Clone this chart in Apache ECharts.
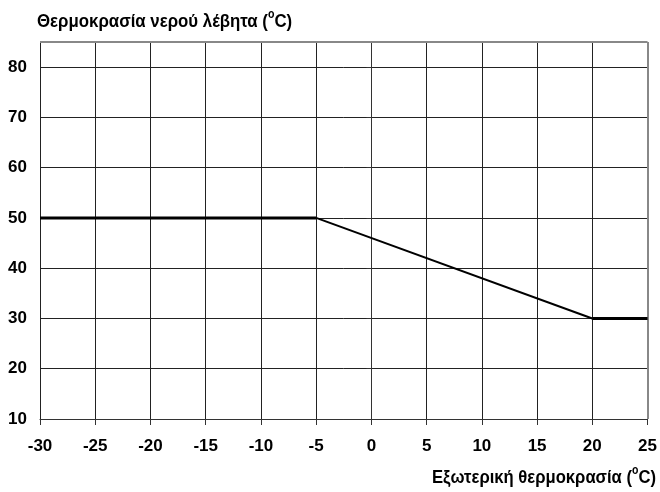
<!DOCTYPE html>
<html><head><meta charset="utf-8">
<script src="https://cdn.jsdelivr.net/npm/echarts@6/dist/echarts.min.js"></script>
<style>html,body{margin:0;padding:0;background:#fff}#c{width:660px;height:492px}</style>
</head><body><div id="c"></div>
<script>
const xTicks = [-30,-25,-20,-15,-10,-5,0,5,10,15,20,25];
const yTicks = [10,20,30,40,50,60,70,80];
const flatLow = [[-30,50],[-5,50]];
const slope = [[-5,50],[20,30]];
const flatHigh = [[20,30],[25,30]];
const yTitle = 'Θερμοκρασία νερού λέβητα (';
const xTitle = 'Εξωτερική θερμοκρασία (';

const FONT = '"Liberation Sans",Arial,sans-serif';
const chart = echarts.init(document.getElementById('c'), null, {renderer:'canvas'});
const lblStyle = {color:'#000', fontFamily:FONT, fontWeight:'bold', fontSize:17};
const rich = {
  t:{fontFamily:FONT,fontWeight:'bold',fontSize:19,fill:'#000',lineHeight:22,verticalAlign:'bottom'},
  s:{fontFamily:FONT,fontWeight:'bold',fontSize:12,fill:'#000',lineHeight:12,verticalAlign:'top'}
};
chart.setOption({
  animation:false,
  backgroundColor:'#fff',
  grid:{left:40, right:8, top:42, bottom:73, show:false},
  graphic:[
    {type:'text', x:37, y:9, scaleX:0.885, style:{text:'{t|'+yTitle+'}{s|o}{t|C)}', rich:rich}},
    {type:'text', x:432, y:465, scaleX:0.875, style:{text:'{t|'+xTitle+'}{s|o}{t|C)}', rich:rich}}
  ],
  xAxis:{type:'value', min:xTicks[0], max:xTicks[xTicks.length-1], interval:5,
    axisLine:{show:true, onZero:false, lineStyle:{color:'#333', width:1}},
    axisTick:{show:true, length:6, lineStyle:{color:'#333'}},
    splitLine:{show:true, lineStyle:{color:'#222', width:1}},
    axisLabel:Object.assign({margin:19, formatter:v=>String(v)}, lblStyle)},
  yAxis:{type:'value', min:yTicks[0], max:85, interval:10,
    axisLine:{show:true, lineStyle:{color:'#333', width:1}},
    axisTick:{show:true, length:5, lineStyle:{color:'#333'}},
    splitLine:{show:true, lineStyle:{color:'#222', width:1}},
    axisLabel:Object.assign({margin:13, showMaxLabel:false, formatter:v=>String(v)}, lblStyle)},
  series:[
    {type:'line', data:flatLow, symbol:'none', lineStyle:{color:'#000', width:3}, z:5},
    {type:'line', data:slope, symbol:'none', lineStyle:{color:'#000', width:2}, z:5},
    {type:'line', data:flatHigh, symbol:'none', lineStyle:{color:'#000', width:3}, z:5},
    {type:'line', data:[], markLine:{silent:true, symbol:'none', label:{show:false},
      data:[[{coord:[xTicks[0],85]},{coord:[xTicks[xTicks.length-1],85]}], [{coord:[xTicks[xTicks.length-1],10]},{coord:[xTicks[xTicks.length-1],85]}]],
      lineStyle:{color:'#888', width:2, type:'solid'}}}
  ]
});
</script></body></html>
